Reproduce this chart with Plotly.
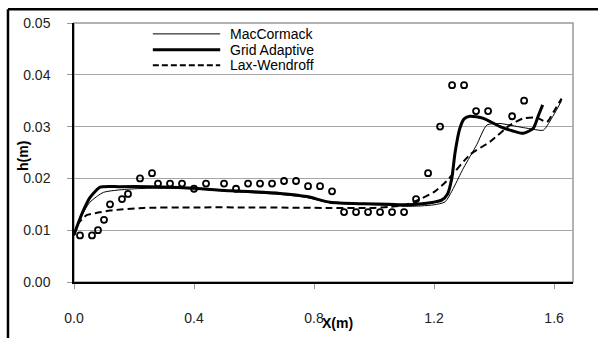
import plotly.graph_objects as go

# Observed data (circles)
obs_x = [0.02, 0.06, 0.08, 0.10, 0.12, 0.16, 0.18, 0.22, 0.26, 0.28, 0.32, 0.36, 0.40, 0.44,
         0.50, 0.54, 0.58, 0.62, 0.66, 0.70, 0.74, 0.78, 0.82, 0.86, 0.90, 0.94, 0.98, 1.02,
         1.06, 1.10, 1.14, 1.18, 1.22, 1.26, 1.30, 1.34, 1.38, 1.46, 1.50]
obs_h = [0.009, 0.009, 0.010, 0.012, 0.015, 0.016, 0.017, 0.020, 0.021, 0.019, 0.019, 0.019, 0.018, 0.019,
         0.019, 0.018, 0.019, 0.019, 0.019, 0.0195, 0.0195, 0.0185, 0.0185, 0.0175, 0.0135, 0.0135, 0.0135, 0.0135,
         0.0135, 0.0135, 0.016, 0.021, 0.030, 0.038, 0.038, 0.033, 0.033, 0.032, 0.035]

# MacCormack (thin line)
mac_x = [0.0, 0.02, 0.053, 0.098, 0.176, 0.25, 0.40, 0.52, 0.60, 0.687, 0.776, 0.853, 0.964, 1.05,
         1.109, 1.16, 1.20, 1.237, 1.298, 1.342, 1.376, 1.42, 1.46, 1.498, 1.53, 1.564, 1.598, 1.625]
mac_h = [0.009, 0.0122, 0.0154, 0.0173, 0.0179, 0.0181, 0.0180, 0.0175, 0.0172, 0.0169, 0.0163, 0.0153, 0.0150, 0.0148,
         0.0146, 0.0147, 0.0149, 0.0155, 0.0220, 0.0265, 0.0303, 0.0306, 0.0302, 0.0298, 0.0295, 0.0293, 0.0322, 0.0350]

# Grid Adaptive (thick line)
ga_x = [0.0, 0.015, 0.031, 0.053, 0.087, 0.15, 0.25, 0.40, 0.52, 0.60, 0.687, 0.776, 0.853, 0.964, 1.05,
        1.109, 1.16, 1.198, 1.225, 1.245, 1.259, 1.27, 1.285, 1.30, 1.32, 1.364, 1.42, 1.46, 1.498, 1.531, 1.548, 1.562]
ga_h = [0.0091, 0.0115, 0.0138, 0.0163, 0.0183, 0.0184, 0.0184, 0.0181, 0.0176, 0.0174, 0.0171, 0.0165, 0.0154, 0.0151, 0.0150,
        0.0149, 0.0151, 0.0154, 0.0158, 0.0170, 0.0200, 0.0250, 0.0295, 0.0315, 0.0320, 0.0316, 0.0300, 0.0292, 0.0287, 0.0297, 0.0322, 0.0342]

# Lax-Wendroff (dashed line)
lw_x = [0.0, 0.014, 0.042, 0.08, 0.12, 0.231, 0.40, 0.60, 0.853, 1.0, 1.05, 1.10, 1.142, 1.198, 1.242,
        1.32, 1.387, 1.453, 1.498, 1.542, 1.576, 1.598, 1.625]
lw_h = [0.009, 0.0113, 0.0129, 0.0134, 0.0138, 0.0143, 0.0144, 0.0144, 0.0143, 0.0143, 0.0145, 0.0148, 0.0157, 0.0173, 0.0195,
        0.0246, 0.0271, 0.0303, 0.0316, 0.0317, 0.0309, 0.0328, 0.0354]

x_ticks = [0.0, 0.4, 0.8, 1.2, 1.6]
x_tick_labels = ["0.0", "0.4", "0.8", "1.2", "1.6"]
y_ticks = [0.00, 0.01, 0.02, 0.03, 0.04, 0.05]
y_tick_labels = ["0.00", "0.01", "0.02", "0.03", "0.04", "0.05"]

legend_names = ["MacCormack", "Grid Adaptive", "Lax-Wendroff"]

FONT = "Liberation Sans, Arial, sans-serif"

fig = go.Figure()
fig.add_trace(go.Scatter(x=mac_x, y=mac_h, mode="lines", name=legend_names[0],
                         line=dict(color="black", width=1, shape="spline", smoothing=0.6),
                         showlegend=False))
fig.add_trace(go.Scatter(x=lw_x, y=lw_h, mode="lines", name=legend_names[2],
                         line=dict(color="black", width=2, dash="7px,4px", shape="spline", smoothing=0.6),
                         showlegend=False))
fig.add_trace(go.Scatter(x=ga_x, y=ga_h, mode="lines", name=legend_names[1],
                         line=dict(color="black", width=3, shape="spline", smoothing=0.6),
                         showlegend=False))
fig.add_trace(go.Scatter(x=obs_x, y=obs_h, mode="markers", name="Observed",
                         marker=dict(symbol="circle-open", size=6, color="black", line=dict(width=1.8)),
                         showlegend=False))

# Manual legend (samples + labels)
leg_rows = [0.958, 0.897, 0.837]
leg_styles = [dict(width=1, dash="solid"), dict(width=3, dash="solid"), dict(width=2, dash="6px,3px")]
for name, yy, st in zip(legend_names, leg_rows, leg_styles):
    fig.add_shape(type="line", xref="paper", yref="paper", x0=0.158, x1=0.293, y0=yy, y1=yy,
                  line=dict(color="black", width=st["width"], dash=st["dash"]))
    fig.add_annotation(xref="paper", yref="paper", x=0.309, y=yy, text=name, showarrow=False,
                       xanchor="left", yanchor="middle", font=dict(family=FONT, size=14, color="black"))

# plot area gray border (top/right)
fig.add_shape(type="rect", xref="paper", yref="paper", x0=0, x1=1, y0=0, y1=1,
              line=dict(color="#999999", width=1.5), layer="below")
# outer chart frame (only left and top edges visible)
fig.add_shape(type="line", xref="paper", yref="paper", x0=-0.1323, x1=1.2, y0=1.0532, y1=1.0532,
              line=dict(color="black", width=2.5))
fig.add_shape(type="line", xref="paper", yref="paper", x0=-0.1323, x1=-0.1323, y0=-0.4, y1=1.0532,
              line=dict(color="black", width=2.5))

# axis titles
fig.add_annotation(xref="paper", yref="paper", x=(337 - 74) / 499, y=-(328 - 286) / 263, text="<b>X(m)</b>",
                   showarrow=False, xanchor="center", yanchor="middle",
                   font=dict(family=FONT, size=14, color="black"))
fig.add_annotation(xref="paper", yref="paper", x=(23 - 74) / 499, y=1 - (158 - 23) / 263, text="<b>h(m)</b>",
                   showarrow=False, xanchor="center", yanchor="middle", textangle=-90,
                   font=dict(family=FONT, size=14, color="black"))

fig.update_layout(
    width=598, height=338,
    margin=dict(l=74, r=25, t=23, b=52),
    paper_bgcolor="white", plot_bgcolor="white",
    font=dict(family=FONT, size=14, color="black"),
    xaxis=dict(range=[0, 1.663], tickvals=x_ticks, ticktext=x_tick_labels,
               showgrid=False, zeroline=False, showline=True, linecolor="black", linewidth=1.5,
               ticks="outside", ticklen=5, tickcolor="#999999", ticklabelstandoff=17,
               tickfont=dict(family=FONT, size=14, color="#222222")),
    yaxis=dict(range=[0, 0.05], tickvals=y_ticks, ticktext=y_tick_labels,
               showgrid=True, gridcolor="#a6a6a6", gridwidth=1, zeroline=False,
               showline=True, linecolor="black", linewidth=1.5,
               ticks="outside", ticklen=5, tickcolor="#999999", ticklabelstandoff=14,
               tickfont=dict(family=FONT, size=14, color="#222222")),
)

fig.write_html("out.html")
